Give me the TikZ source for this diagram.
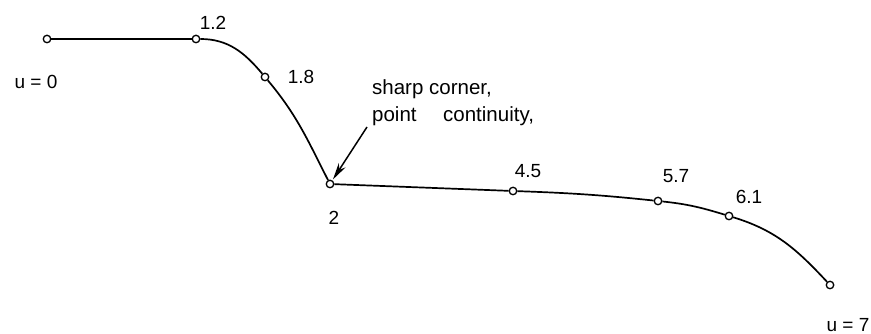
\documentclass[tikz,border=0pt]{standalone}
\usepackage{fontspec}
\setmainfont{Liberation Sans}
\usetikzlibrary{arrows.meta}
\begin{document}
\begin{tikzpicture}[x=1pt,y=1pt,
  ptn/.style={circle,draw,line width=1.3pt,inner sep=0pt,minimum size=7.5pt,fill=white},
  curve/.style={line width=1.7pt},
  lab/.style={font=\fontsize{19}{22}\selectfont,inner sep=0pt},
  note/.style={font=\fontsize{20.5}{24}\selectfont,inner sep=0pt,anchor=base west}]
\useasboundingbox (0,0) rectangle (871,334);
% curve points
\node[ptn] (p0) at (47,295) {};
\node[ptn] (p1) at (196,295) {};
\node[ptn] (p2) at (265,257) {};
\node[ptn] (p3) at (330,150) {};
\node[ptn] (p4) at (513,143) {};
\node[ptn] (p5) at (658,133) {};
\node[ptn] (p6) at (729,118) {};
\node[ptn] (p7) at (830,49) {};
% curve
\draw[curve] (p0) -- (p1);
\draw[curve] (p1) to[out=0,in=130] (p2);
\draw[curve] (p2) to[out=-50,in=117] (p3);
\draw[curve] (p3) -- (p4);
\draw[curve] (p4) to[out=-2,in=174] (p5);
\draw[curve] (p5) to[out=-6,in=163] (p6);
\draw[curve] (p6) to[out=-17,in=133] (p7);
% labels
\node[lab] (l0) at (36,252) {u = 0};
\node[lab] (l1) at (213,311) {1.2};
\node[lab] (l2) at (301,257) {1.8};
\node[lab] (l3) at (334,116) {2};
\node[lab] (l4) at (528,163) {4.5};
\node[lab] (l5) at (676,158) {5.7};
\node[lab] (l6) at (749,137) {6.1};
\node[lab] (l7) at (848,9) {u = 7};
% annotation
\node[note] (n1) at (372,239) {sharp corner,};
\node[note] (n2) at (372,212) {point};
\node[note] (n3) at (443,212) {continuity,};
\coordinate (tail) at (367,207);
\draw[line width=1.5pt,-{Stealth[length=17pt,width=8pt]},shorten >=1pt] (tail) -- (p3);
\end{tikzpicture}
\end{document}
